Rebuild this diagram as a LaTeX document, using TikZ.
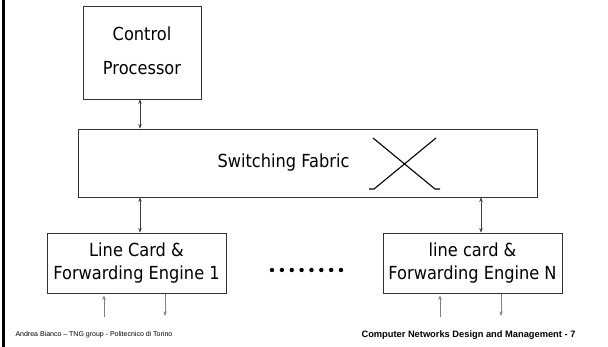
\documentclass[tikz,border=0pt]{standalone}
\usepackage{fontspec}
\setmainfont{Liberation Sans}
\newfontfamily\boxfont{DejaVu Sans}[FakeStretch=0.9]
\usetikzlibrary{arrows.meta}

\begin{document}
\begin{tikzpicture}[x=1pt,y=-1pt]
  \tikzset{
    >={Stealth[length=4.5pt,width=3.5pt]},
    box/.style={draw=black!80, line width=0.8pt, inner sep=0pt, align=center,
      text=black, font=\boxfont\fontsize{18}{23}\selectfont},
    link/.style={<->, line width=0.6pt, draw=black!75},
    port/.style={->, line width=1pt, draw=black!50},
  }
  \useasboundingbox (0,0) rectangle (608,347);
  % slide edge
  \fill[black] (2,0) rectangle (5,347);

  % boxes
  \node[box, minimum width=118pt, minimum height=93pt, text depth=3pt,
    font=\boxfont\fontsize{18}{34}\selectfont] (cp) at (142,52.5) {Control\\Processor};
  \node[box, minimum width=459pt, minimum height=68pt] (fabric) at (307.5,163) {};
  \node[font=\boxfont\fontsize{18}{23}\selectfont, text=black] (fabtext)
    at ([xshift=-24pt]fabric.center) {Switching Fabric};
  \node[box, minimum width=179pt, minimum height=60pt] (lc1) at (136.5,263)
    {Line Card \&\\Forwarding Engine 1};
  \node[box, minimum width=179pt, minimum height=60pt] (lcn) at (472.5,263)
    {line card \&\\Forwarding Engine N};

  % crossbar symbol
  \draw[line width=1.1pt] (373,138) -- (435,189) -- (440,189)
                          (436,138) -- (374,189) -- (369,189);

  % links to the fabric
  \draw[link] ([xshift=-2pt]cp.south) -- ([xshift=-2pt]cp.south |- fabric.north);
  \draw[link] ([xshift=3.5pt]lc1.north) -- ([xshift=3.5pt]lc1.north |- fabric.south);
  \draw[link] ([xshift=8.5pt]lcn.north) -- ([xshift=8.5pt]lcn.north |- fabric.south);

  % input/output ports
  \coordinate (in1) at (104,317);
  \coordinate (out1) at (165,316);
  \coordinate (inN) at (440,317);
  \coordinate (outN) at (501,316);
  \draw[port] (in1) -- ([yshift=-2pt]in1 |- lc1.south);
  \draw[port] ([yshift=-1pt]out1 |- lc1.south) -- (out1);
  \draw[port] (inN) -- ([yshift=-2pt]inN |- lcn.south);
  \draw[port] ([yshift=-1pt]outN |- lcn.south) -- (outN);

  % more line cards
  \foreach \i in {0,...,7}
    \fill (272+9.86*\i,270) circle (2.2pt);

  % footer
  \node[anchor=west, font=\fontsize{7}{8}\selectfont] (author) at (12,335)
    {Andrea Bianco – TNG group - Politecnico di Torino};
  \node[font=\bfseries\fontsize{9.3}{10}\selectfont] (course) at (468.5,335)
    {Computer Networks Design and Management - 7};
\end{tikzpicture}
\end{document}
